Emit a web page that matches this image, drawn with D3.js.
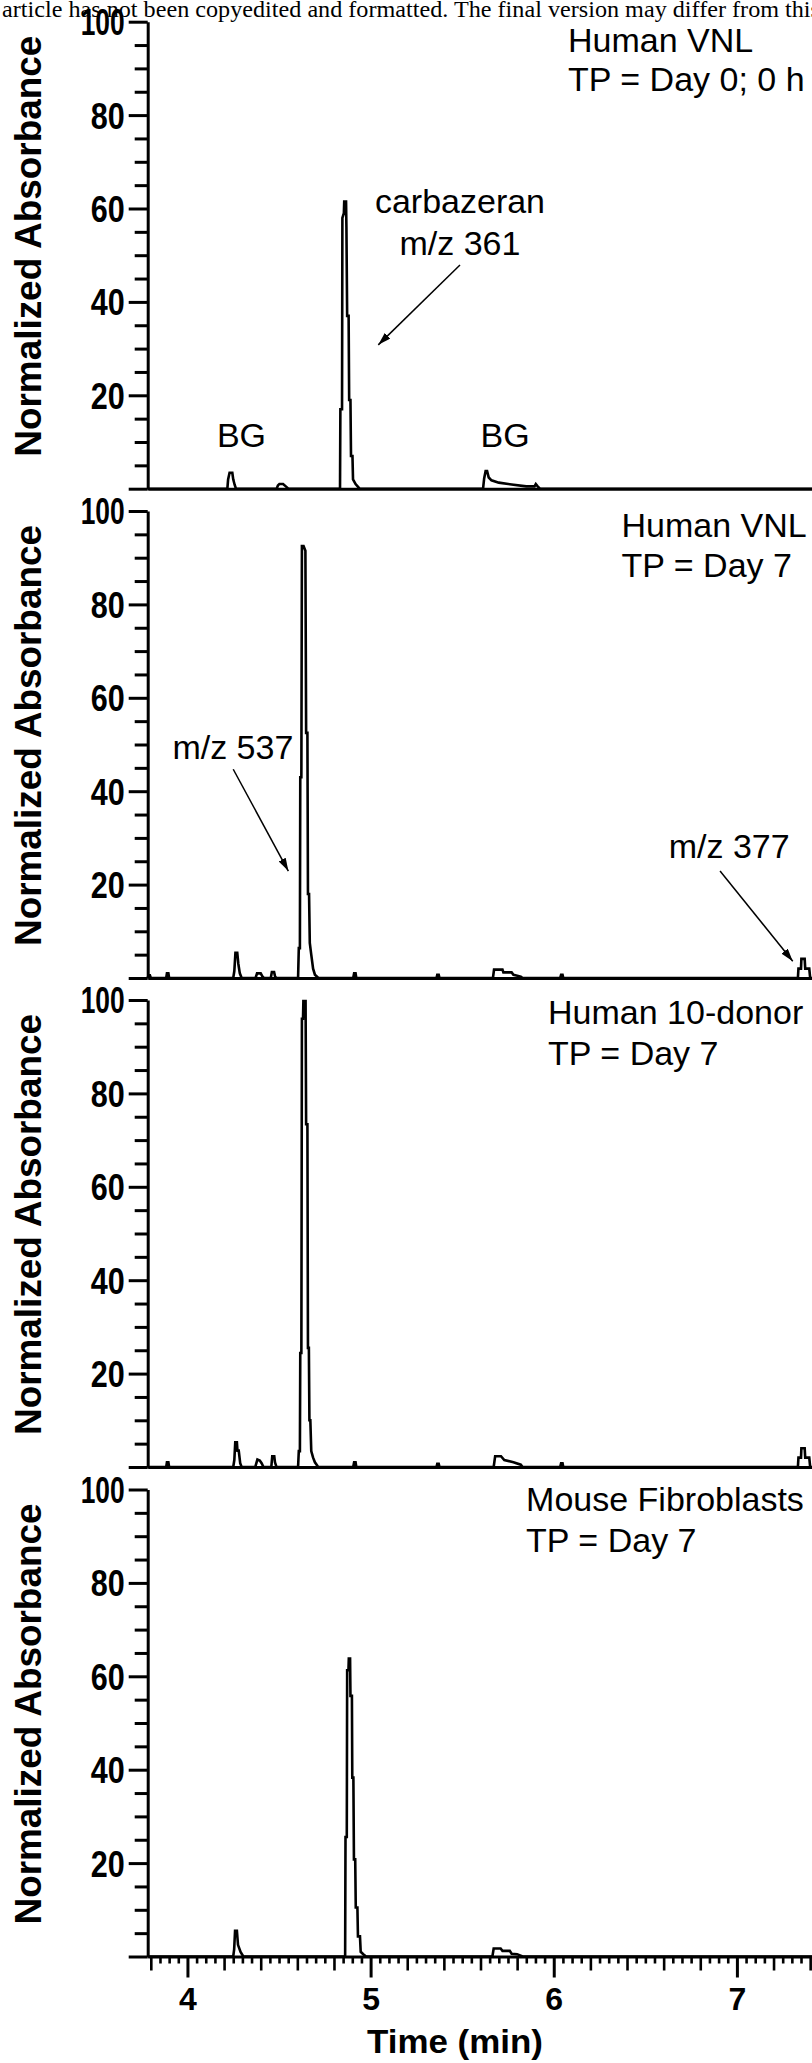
<!DOCTYPE html>
<html>
<head>
<meta charset="utf-8">
<script src="https://cdn.jsdelivr.net/npm/d3@7"></script>
<style>
  body { margin: 0; background: #fff; }
  svg { display: block; }
  text { font-family: "Liberation Sans", Arial, sans-serif; fill: #000; }
</style>
</head>
<body>
<div id="chart"></div>
<script>
// traces: [retention time (min), normalized absorbance]
const vnlDay0 = [
  [3.783, 0], [4.218, 0], [4.222, 2.0], [4.230, 3.4], [4.245, 3.4], [4.250, 2.0], [4.258, 0.8], [4.265, 0],
  [4.487, 0], [4.494, 0.7], [4.502, 1.0], [4.522, 1.0], [4.537, 0.5], [4.551, 0],
  [4.833, 0], [4.835, 17], [4.844, 17], [4.846, 58], [4.854, 59], [4.856, 61.5], [4.866, 61.5],
  [4.868, 56], [4.872, 37], [4.880, 37], [4.883, 19], [4.890, 19], [4.893, 7], [4.901, 7],
  [4.904, 2], [4.918, 1], [4.940, 0],
  [5.614, 0], [5.620, 2.2], [5.628, 3.8], [5.636, 3.8], [5.645, 2.4], [5.660, 1.8], [5.700, 1.3],
  [5.770, 0.9], [5.850, 0.5], [5.895, 0.5], [5.902, 1.0], [5.912, 0.5], [5.925, 0],
  [7.41, 0]
];

const vnlDay7 = [
  [3.783, 0], [3.787, 0.6], [3.795, 0.6], [3.800, 0],
  [3.884, 0], [3.888, 1.0], [3.896, 1.0], [3.900, 0],
  [4.250, 0], [4.256, 1.5], [4.262, 5.4], [4.272, 5.4], [4.278, 3.0], [4.286, 1.0], [4.296, 0],
  [4.372, 0], [4.380, 1.0], [4.400, 1.0], [4.410, 0.3], [4.418, 0],
  [4.455, 0], [4.461, 1.3], [4.473, 1.3], [4.478, 0.4], [4.485, 0],
  [4.604, 0], [4.608, 6.4], [4.614, 6.4], [4.616, 43], [4.622, 43], [4.625, 92.5], [4.634, 92.5],
  [4.644, 91.5], [4.648, 52.5], [4.655, 52.5], [4.658, 18], [4.664, 18], [4.668, 7.5],
  [4.676, 5], [4.686, 2], [4.696, 0.7], [4.715, 0],
  [4.905, 0], [4.910, 1.0], [4.918, 1.0], [4.922, 0],
  [5.360, 0], [5.364, 0.7], [5.372, 0.7], [5.376, 0],
  [5.668, 0], [5.674, 1.8], [5.720, 1.8], [5.725, 1.2], [5.770, 1.2], [5.780, 0.7], [5.820, 0.3], [5.830, 0],
  [6.035, 0], [6.040, 0.7], [6.048, 0.7], [6.052, 0],
  [7.333, 0], [7.336, 2.0], [7.350, 2.0], [7.352, 4.1], [7.370, 4.1], [7.373, 2.0], [7.395, 2.0], [7.400, 0],
  [7.41, 0]
];

const donorDay7 = [
  [3.783, 0], [3.884, 0], [3.888, 1.0], [3.896, 1.0], [3.900, 0],
  [4.250, 0], [4.256, 1.5], [4.261, 5.3], [4.270, 5.3], [4.273, 3.5], [4.280, 3.5], [4.288, 0.8], [4.296, 0],
  [4.370, 0], [4.382, 1.6], [4.395, 1.4], [4.405, 0.8], [4.415, 0],
  [4.458, 0], [4.463, 2.3], [4.474, 2.3], [4.478, 1.0], [4.486, 0],
  [4.604, 0], [4.608, 3.4], [4.614, 3.4], [4.616, 24.4], [4.622, 24.4], [4.625, 96], [4.631, 96],
  [4.633, 99.8], [4.645, 99.8], [4.648, 73.4], [4.655, 73.4], [4.658, 25.5], [4.663, 25.5],
  [4.666, 10], [4.671, 10], [4.676, 3.4], [4.686, 2], [4.696, 1], [4.714, 0],
  [4.905, 0], [4.910, 1.0], [4.918, 1.0], [4.922, 0],
  [5.360, 0], [5.364, 0.7], [5.372, 0.7], [5.376, 0],
  [5.672, 0], [5.680, 2.3], [5.712, 2.3], [5.730, 1.5], [5.780, 1.0], [5.820, 0.5], [5.830, 0],
  [6.035, 0], [6.040, 0.8], [6.048, 0.8], [6.052, 0],
  [7.333, 0], [7.336, 2.0], [7.350, 2.0], [7.352, 4.0], [7.370, 4.0], [7.373, 2.0], [7.395, 2.0], [7.400, 0],
  [7.41, 0]
];

const mouseDay7 = [
  [3.783, 0], [4.250, 0], [4.255, 1.5], [4.260, 5.5], [4.270, 5.5], [4.276, 2.5], [4.290, 1.0], [4.305, 0],
  [4.861, 0], [4.863, 25.6], [4.870, 25.6], [4.872, 61.3], [4.879, 61.3], [4.881, 63.8], [4.888, 63.8],
  [4.890, 55.8], [4.898, 55.8], [4.900, 38.3], [4.906, 38.3], [4.909, 20.8], [4.916, 20.8],
  [4.919, 10.5], [4.928, 10.5], [4.931, 4.3], [4.942, 4.3], [4.946, 1.0], [4.960, 0.5], [4.975, 0],
  [5.665, 0], [5.672, 1.7], [5.710, 1.7], [5.720, 1.2], [5.760, 1.2], [5.770, 0.6], [5.800, 0.5], [5.830, 0],
  [7.41, 0]
];

const traces = [vnlDay0, vnlDay7, donorDay7, mouseDay7];
const panelTitles = [
  ["Human VNL", "TP = Day 0; 0 h"],
  ["Human VNL", "TP = Day 7"],
  ["Human 10-donor", "TP = Day 7"],
  ["Mouse Fibroblasts", "TP = Day 7"]
];
const yTickValues = [0, 20, 40, 60, 80, 100];
const yTickLabels = ["", "20", "40", "60", "80", "100"];
const xTickValues = [4, 5, 6, 7];
const xTickLabels = ["4", "5", "6", "7"];
const yTitle = "Normalized Absorbance";
const xTitle = "Time (min)";
const notice = "article has not been copyedited and formatted. The final version may differ from this";

// layout
const width = 812;
const height = 2063;
const left = 147.7;
const panelTop = [21.7, 511, 1000, 1489.5];
const panelH = 467;

const x = d3.scaleLinear().domain([3.783, 7.41]).range([left, width]);

const svg = d3.select("#chart")
  .append("svg")
    .attr("width", width)
    .attr("height", height);

svg.append("rect").attr("width", width).attr("height", height).attr("fill", "#fff");

svg.append("defs")
  .append("marker")
    .attr("id", "arrow")
    .attr("viewBox", "0 0 13 8")
    .attr("refX", 13)
    .attr("refY", 4)
    .attr("markerWidth", 13)
    .attr("markerHeight", 8)
    .attr("markerUnits", "userSpaceOnUse")
    .attr("orient", "auto")
  .append("path")
    .attr("d", "M0,0L13,4L0,8Z")
    .attr("fill", "#000");

// page header showing through at the top
svg.append("text")
  .attr("x", 2)
  .attr("y", 17)
  .attr("textLength", 818)
  .attr("lengthAdjust", "spacingAndGlyphs")
  .style("font-family", '"Liberation Serif", "Times New Roman", serif')
  .style("font-size", "23px")
  .text(notice);

// annotations, in data units of each panel
const notes = [
  {
    labels: [
      { t: 5.488, v: 59, s: "carbazeran" },
      { t: 5.488, v: 50, s: "m/z 361" },
      { t: 4.295, v: 9, s: "BG" },
      { t: 5.734, v: 9, s: "BG" }
    ],
    arrows: [[5.488, 47.9, 5.042, 30.8]]
  },
  {
    labels: [
      { t: 4.248, v: 47, s: "m/z 537" },
      { t: 6.958, v: 25.6, s: "m/z 377" }
    ],
    arrows: [[4.250, 44.7, 4.551, 22.9], [6.908, 22.9, 7.305, 3.6]]
  },
  { labels: [], arrows: [] },
  { labels: [], arrows: [] }
];
const titleAt = [[6.078, 93.5, 85.2], [6.370, 94.4, 85.9], [5.969, 94.9, 86.1], [5.849, 95.5, 86.7]];

const yMinor = d3.range(0, 101, 5).filter((d) => d % 20 !== 0);

traces.forEach((trace, i) => {
  const top = panelTop[i];
  const y = d3.scaleLinear().domain([0, 100]).range([top + panelH, top]);
  const g = svg.append("g").attr("class", "panel");

  // y axis minor ticks
  g.append("g")
    .attr("transform", `translate(${left},0)`)
    .call(d3.axisLeft(y).tickValues(yMinor).tickSize(13).tickFormat(""))
    .call((s) => s.select(".domain").remove())
    .selectAll("line").attr("stroke-width", 3);

  // y axis major ticks and labels
  const ya = g.append("g")
    .attr("transform", `translate(${left},0)`)
    .call(d3.axisLeft(y)
      .tickValues(yTickValues)
      .tickSize(19)
      .tickSizeOuter(0)
      .tickPadding(4)
      .tickFormat((d, k) => yTickLabels[k]));
  ya.select(".domain").attr("stroke-width", 3);
  ya.selectAll("line").attr("stroke-width", 3);
  ya.selectAll("text")
    .attr("font-size", null)
    .style("font-size", "36px")
    .style("font-weight", "bold")
    .attr("dy", "0.36em")
    .attr("textLength", (d, k) => yTickLabels[k].length > 2 ? 44 : 34)
    .attr("lengthAdjust", "spacingAndGlyphs");

  // baseline (and time ticks on the last panel)
  const last = i === traces.length - 1;
  const xa = g.append("g")
    .attr("transform", `translate(0,${y(0)})`)
    .call(d3.axisBottom(x)
      .tickValues(last ? xTickValues : [])
      .tickSize(21)
      .tickSizeOuter(0)
      .tickPadding(10)
      .tickFormat((d, k) => xTickLabels[k]));
  xa.select(".domain").attr("stroke-width", 3);
  xa.selectAll("line").attr("stroke-width", 3);
  xa.selectAll("text")
    .attr("font-size", null)
    .style("font-size", "32px")
    .style("font-weight", "bold");

  if (last) {
    const steps = d3.range(76, 149);
    const medium = steps.filter((k) => k % 4 === 0 && k % 20 !== 0).map((k) => k * 0.05);
    const small = steps.filter((k) => k % 4 !== 0).map((k) => k * 0.05);
    [[medium, 14], [small, 7]].forEach(([vals, size]) => {
      g.append("g")
        .attr("transform", `translate(0,${y(0)})`)
        .call(d3.axisBottom(x).tickValues(vals).tickSize(size).tickFormat(""))
        .call((s) => s.select(".domain").remove())
        .selectAll("line").attr("stroke-width", 2.6);
    });

    g.append("text")
      .attr("x", 455)
      .attr("y", 2053)
      .attr("text-anchor", "middle")
      .attr("textLength", 176)
      .attr("lengthAdjust", "spacingAndGlyphs")
      .style("font-size", "34px")
      .style("font-weight", "bold")
      .text(xTitle);
  }

  // y title
  g.append("text")
    .attr("transform", `translate(41,${top + panelH / 2 - 9}) rotate(-90)`)
    .attr("text-anchor", "middle")
    .attr("textLength", 421)
    .attr("lengthAdjust", "spacingAndGlyphs")
    .style("font-size", "36px")
    .style("font-weight", "bold")
    .text(yTitle);

  // trace
  const line = d3.line()
    .x((d) => x(d[0]))
    .y((d) => y(d[1]));
  g.append("path")
    .datum(trace)
    .attr("d", line)
    .attr("fill", "none")
    .attr("stroke", "#000")
    .attr("stroke-width", 2.6)
    .attr("stroke-linejoin", "miter");

  // panel title
  const [tt, v1, v2] = titleAt[i];
  g.selectAll(".title")
    .data(panelTitles[i])
    .enter()
    .append("text")
      .attr("class", "title")
      .attr("x", x(tt))
      .attr("y", (d, k) => y(k === 0 ? v1 : v2))
      .style("font-size", "34px")
      .text((d) => d);

  // labels and arrows
  g.selectAll(".note")
    .data(notes[i].labels)
    .enter()
    .append("text")
      .attr("class", "note")
      .attr("x", (d) => x(d.t))
      .attr("y", (d) => y(d.v))
      .attr("text-anchor", "middle")
      .style("font-size", "34px")
      .text((d) => d.s);

  g.selectAll(".arrow")
    .data(notes[i].arrows)
    .enter()
    .append("line")
      .attr("class", "arrow")
      .attr("x1", (d) => x(d[0]))
      .attr("y1", (d) => y(d[1]))
      .attr("x2", (d) => x(d[2]))
      .attr("y2", (d) => y(d[3]))
      .attr("stroke", "#000")
      .attr("stroke-width", 1.5)
      .attr("marker-end", "url(#arrow)");
});
</script>
</body>
</html>
